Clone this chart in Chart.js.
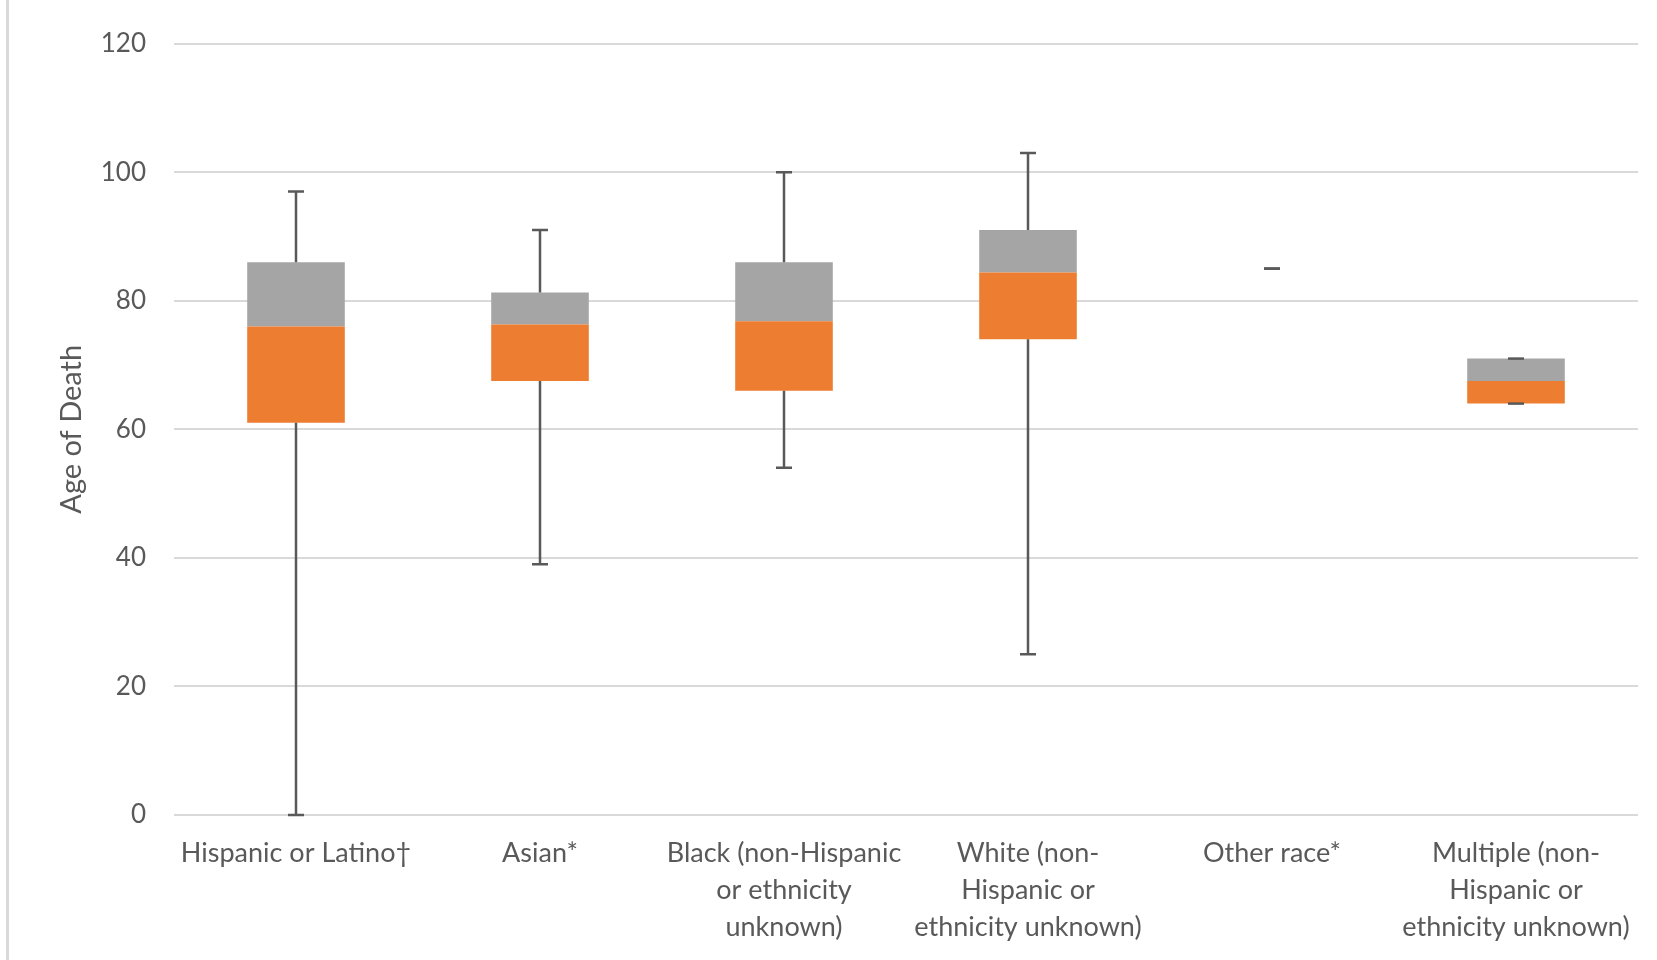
<!DOCTYPE html>
<html lang="en">
<head>
    <meta charset="UTF-8">
    <title>Age of Death by Race and Ethnicity</title>
    <script src="https://cdn.jsdelivr.net/npm/chart.js"></script>
    <style>
        body { margin: 0; background: #fff; }
        #wrap { position: relative; width: 1657px; height: 960px; }
        #edge { position: absolute; left: 6px; top: 0; width: 3px; height: 960px; background: #d9d9d9; }
        canvas { position: absolute; left: 0; top: 0; }
    </style>
</head>
<body>
<div id="wrap">
    <div id="edge"></div>
    <canvas id="boxChart" width="1657" height="960"></canvas>
</div>
<script>
    // categories and box values (age of death)
    const categories = [
        'Hispanic or Latino\u2020',
        'Asian*',
        ['Black (non-Hispanic', 'or ethnicity', 'unknown)'],
        ['White (non-', 'Hispanic or', 'ethnicity unknown)'],
        'Other race*',
        ['Multiple (non-', 'Hispanic or', 'ethnicity unknown)']
    ];
    const minAge = [0, 39, 54, 25, 85, 64];
    const q1Age = [61, 67.5, 66, 74, 85, 64];
    const medianAge = [76, 76.3, 76.8, 84.4, 85, 67.5];
    const q3Age = [86, 81.3, 86, 91, 85, 71];
    const maxAge = [97, 91, 100, 103, 85, 71];
    const yTicks = [0, 20, 40, 60, 80, 100, 120];

    const textColor = '#595959';
    const fontFamily = 'Lato, "Liberation Sans", sans-serif';

    // whiskers drawn as error bars on top of the boxes
    const whiskers = {
        id: 'whiskers',
        afterDatasetsDraw(chart) {
            const ctx = chart.ctx;
            const x = chart.scales.x, y = chart.scales.y;
            ctx.save();
            ctx.strokeStyle = '#595959';
            ctx.lineWidth = 2.5;
            for (let i = 0; i < categories.length; i++) {
                const px = x.getPixelForValue(i);
                const pairs = [[q3Age[i], maxAge[i]], [q1Age[i], minAge[i]]];
                pairs.forEach(([from, to]) => {
                    ctx.beginPath();
                    if (to !== from) {
                        ctx.moveTo(px, y.getPixelForValue(from));
                        ctx.lineTo(px, y.getPixelForValue(to));
                    }
                    const cy = y.getPixelForValue(to);
                    ctx.moveTo(px - 8, cy);
                    ctx.lineTo(px + 8, cy);
                    ctx.stroke();
                });
            }
            ctx.restore();
        }
    };

    new Chart(document.getElementById('boxChart'), {
        type: 'bar',
        data: {
            labels: categories,
            datasets: [{
                label: 'Q1 to median',
                data: q1Age.map((v, i) => [v, medianAge[i]]),
                backgroundColor: '#ED7D31',
                grouped: false
            }, {
                label: 'Median to Q3',
                data: medianAge.map((v, i) => [v, q3Age[i]]),
                backgroundColor: '#A5A5A5',
                grouped: false
            }]
        },
        options: {
            responsive: false,
            animation: false,
            events: [],
            layout: { padding: { top: 38, right: 19, bottom: 0, left: 0 } },
            datasets: { bar: { barPercentage: 0.4, categoryPercentage: 1 } },
            plugins: { legend: { display: false }, tooltip: { enabled: false } },
            scales: {
                x: {
                    grid: { display: false, drawTicks: false },
                    border: { display: false },
                    ticks: {
                        color: textColor,
                        padding: 20,
                        maxRotation: 0,
                        autoSkip: false,
                        font: { family: fontFamily, size: 27, lineHeight: 1.37 }
                    },
                    afterFit(scale) { scale.height = 145; }
                },
                y: {
                    min: 0,
                    max: 120,
                    afterBuildTicks(scale) { scale.ticks = yTicks.map(v => ({ value: v })); },
                    grid: { color: '#d9d9d9', lineWidth: 2, drawTicks: false },
                    border: { display: false },
                    ticks: {
                        color: textColor,
                        padding: 28,
                        font: { family: fontFamily, size: 26 }
                    },
                    title: {
                        display: true,
                        text: 'Age of Death',
                        color: textColor,
                        padding: { top: 54, bottom: 0 },
                        font: { family: fontFamily, size: 29, lineHeight: 1.2 }
                    },
                    afterFit(scale) { scale.width = 174; }
                }
            }
        },
        plugins: [whiskers]
    });
</script>
</body>
</html>
